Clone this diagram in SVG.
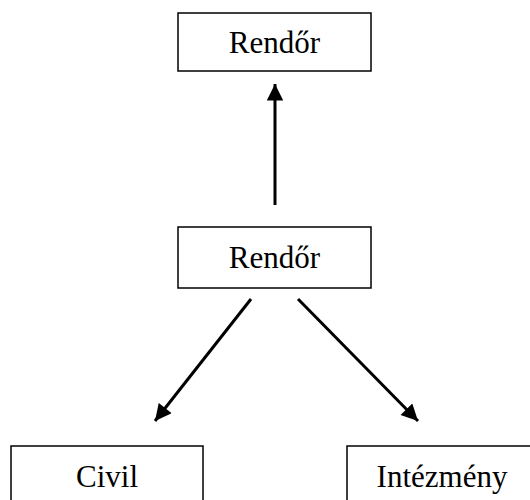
<svg xmlns="http://www.w3.org/2000/svg" width="530" height="500" viewBox="0 0 530 500">
<style>
.box{fill:#fff;stroke:#000;stroke-width:1.5}
.t{font-family:"Liberation Serif","Times New Roman",serif;font-size:31px;fill:#000;text-anchor:middle}
.c{stroke:#000;stroke-width:3;fill:none}
</style>
<defs>
<marker id="ah" viewBox="0 0 10 10" refX="10" refY="5" markerWidth="5.8" markerHeight="5.5" orient="auto" markerUnits="strokeWidth">
<path d="M0,0 L10,5 L0,10 z" fill="#000"/>
</marker>
</defs>
<rect width="530" height="500" fill="#fff"/>
<g id="connectors">
<line class="c" x1="275" y1="205" x2="275" y2="84" marker-end="url(#ah)"/>
<line class="c" x1="251" y1="299" x2="155" y2="421" marker-end="url(#ah)"/>
<line class="c" x1="298" y1="299" x2="418" y2="421" marker-end="url(#ah)"/>
</g>
<g id="rendor-top">
<rect class="box" x="178" y="13" width="193" height="58"/>
<text class="t" x="274.5" y="53">Rendőr</text>
</g>
<g id="rendor-mid">
<rect class="box" x="178" y="227" width="193" height="61"/>
<text class="t" x="274.5" y="268">Rendőr</text>
</g>
<g id="civil">
<rect class="box" x="11" y="446" width="192" height="70"/>
<text class="t" x="107" y="487">Civil</text>
</g>
<g id="intezmeny">
<rect class="box" x="347" y="446" width="190" height="70"/>
<text class="t" x="442" y="487">Intézmény</text>
</g>
</svg>
